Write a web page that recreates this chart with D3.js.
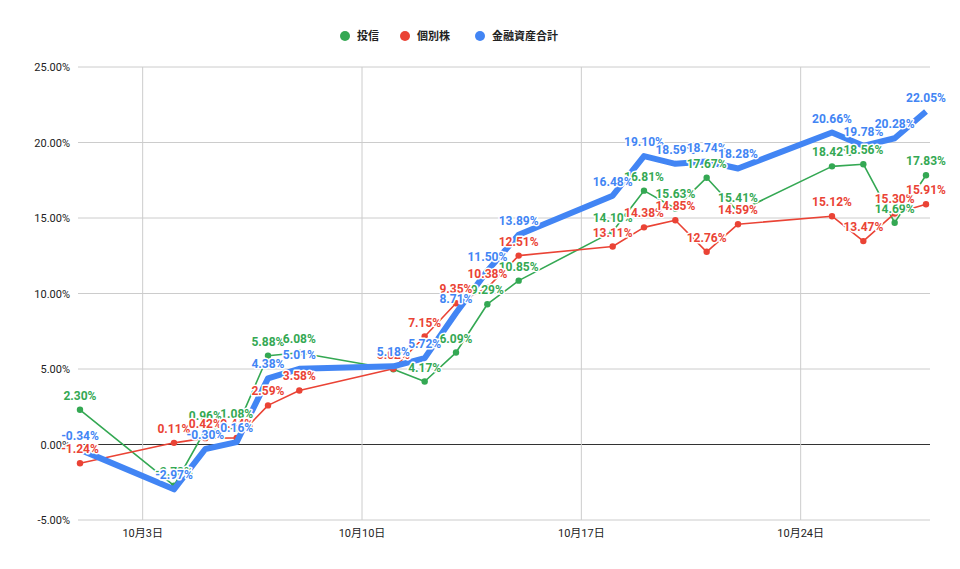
<!DOCTYPE html>
<html><head><meta charset="utf-8">
<script src="https://cdn.jsdelivr.net/npm/d3@7"></script>
<style>body{margin:0;background:#fff;font-family:Roboto,"Noto Sans CJK JP",sans-serif;}</style>
</head><body><div id="chart"></div>
<script>
const days = [1, 4, 5, 6, 7, 8, 11, 12, 13, 14, 15, 18, 19, 20, 21, 22, 25, 26, 27, 28];
const fund = [2.30, -2.73, 0.96, 1.08, 5.88, 6.08, 4.98, 4.17, 6.09, 9.29, 10.85, 14.10, 16.81, 15.63, 17.67, 15.41, 18.42, 18.56, 14.69, 17.83];
const stock = [-1.24, 0.11, 0.42, 0.44, 2.59, 3.58, 5.02, 7.15, 9.35, 10.38, 12.51, 13.11, 14.38, 14.85, 12.76, 14.59, 15.12, 13.47, 15.30, 15.91];
const total = [-0.34, -2.97, -0.30, 0.16, 4.38, 5.01, 5.18, 5.72, 8.71, 11.50, 13.89, 16.48, 19.10, 18.59, 18.74, 18.28, 20.66, 19.78, 20.28, 22.05];
const yTicks = [-5, 0, 5, 10, 15, 20, 25];
const xTicks = [3, 10, 17, 24];
const seriesNames = ["投信", "個別株", "金融資産合計"];
const colors = ["#34a853", "#ea4335", "#4285f4"];

const width = 960, height = 569;
const svg = d3.select("#chart").append("svg").attr("width", width).attr("height", height);

const x = d3.scaleLinear().domain([1, 28]).range([80, 926]);
const y = d3.scaleLinear().domain([-5, 25]).range([520, 67]);

// grid
svg.append("g").selectAll("line").data(yTicks).join("line")
  .attr("x1", 78).attr("x2", 930).attr("y1", d => y(d)).attr("y2", d => y(d))
  .attr("stroke", d => d === 0 ? "#333" : "#ccc").attr("stroke-width", 1);
svg.append("g").selectAll("line").data(xTicks).join("line")
  .attr("x1", d => x(d)).attr("x2", d => x(d)).attr("y1", 67).attr("y2", 520)
  .attr("stroke", "#ccc");

svg.append("g").selectAll("text").data(yTicks).join("text")
  .attr("x", 70).attr("y", d => y(d) + 4).attr("text-anchor", "end")
  .attr("font-size", 11).attr("fill", "#222").text(d => d.toFixed(2) + "%");
svg.append("g").selectAll("text").data(xTicks).join("text")
  .attr("x", d => x(d)).attr("y", 537).attr("text-anchor", "middle")
  .attr("font-size", 11).attr("fill", "#222").text(d => "10月" + d + "日");

const series = [fund, stock, total];
const line = d3.line().x((d, i) => x(days[i])).y(d => y(d));

series.forEach((vals, s) => {
  svg.append("path").datum(vals).attr("d", line).attr("fill", "none")
    .attr("stroke", colors[s]).attr("stroke-width", s === 2 ? 6 : 1.6)
    .attr("stroke-linejoin", "round");
  if (s < 2) {
    svg.append("g").selectAll("circle").data(vals).join("circle")
      .attr("cx", (d, i) => x(days[i])).attr("cy", d => y(d)).attr("r", 3.2)
      .attr("fill", colors[s]);
  }
});

series.forEach((vals, s) => {
  svg.append("g").selectAll("text").data(vals).join("text")
    .attr("x", (d, i) => x(days[i])).attr("y", d => y(d) - 10)
    .attr("text-anchor", "middle").attr("font-size", 12).attr("font-weight", "bold")
    .attr("fill", colors[s]).attr("stroke", "#fff").attr("stroke-width", 3)
    .attr("paint-order", "stroke").attr("stroke-linejoin", "round")
    .text(d => d.toFixed(2) + "%");
});

// legend
const legend = svg.append("g");
const lx = [345, 405, 480];
seriesNames.forEach((n, i) => {
  legend.append("circle").attr("cx", lx[i]).attr("cy", 36).attr("r", 5).attr("fill", colors[i]);
  legend.append("text").attr("x", lx[i] + 12).attr("y", 40).attr("font-size", 11)
    .attr("font-weight", "bold").attr("fill", "#222").text(n);
});
</script></body></html>
